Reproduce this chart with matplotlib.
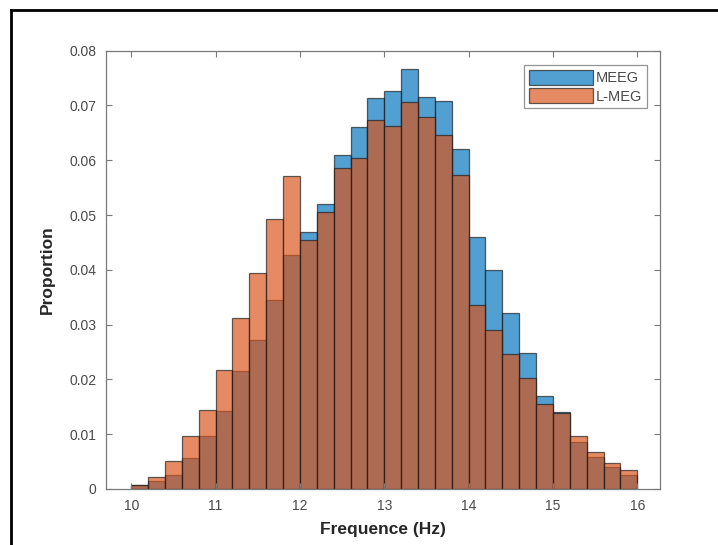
import numpy as np
import matplotlib
matplotlib.use("Agg")
import matplotlib.pyplot as plt
from matplotlib.lines import Line2D

# Histogram bin edges (Hz) and per-bin proportions for each recording type
bin_edges = [10.0, 10.2, 10.4, 10.6, 10.8, 11.0, 11.2, 11.4, 11.6, 11.8,
             12.0, 12.2, 12.4, 12.6, 12.8, 13.0, 13.2, 13.4, 13.6, 13.8,
             14.0, 14.2, 14.4, 14.6, 14.8, 15.0, 15.2, 15.4, 15.6, 15.8, 16.0]

meeg = [0.0007, 0.0015, 0.0025, 0.0057, 0.0097, 0.0142, 0.0215, 0.0272, 0.0345, 0.0427,
        0.0469, 0.0521, 0.0609, 0.0660, 0.0714, 0.0727, 0.0767, 0.0716, 0.0708, 0.0620,
        0.0460, 0.0399, 0.0321, 0.0248, 0.0170, 0.0140, 0.0085, 0.0059, 0.0041, 0.0025]

lmeg = [0.0007, 0.0021, 0.0051, 0.0097, 0.0145, 0.0218, 0.0312, 0.0394, 0.0493, 0.0571,
        0.0455, 0.0506, 0.0585, 0.0604, 0.0673, 0.0663, 0.0707, 0.0679, 0.0647, 0.0574,
        0.0336, 0.0291, 0.0247, 0.0202, 0.0155, 0.0139, 0.0097, 0.0067, 0.0048, 0.0034]

series_names = ["MEEG", "L-MEG"]
x_ticks = [10, 11, 12, 13, 14, 15, 16]
y_ticks = [0, 0.01, 0.02, 0.03, 0.04, 0.05, 0.06, 0.07, 0.08]
y_tick_labels = ["0", "0.01", "0.02", "0.03", "0.04", "0.05", "0.06", "0.07", "0.08"]

plt.rcParams["font.family"] = ["Liberation Sans", "DejaVu Sans"]

blue = (0.0, 0.447, 0.741)
orange = (0.85, 0.325, 0.098)
alpha = 0.68
axis_gray = "#7a7a7a"
text_gray = "#4a4a4a"

fig = plt.figure(figsize=(7.18, 5.45), dpi=100)
ax = fig.add_axes([106 / 718, (545 - 489) / 545, (660 - 106) / 718, (489 - 50.7) / 545])

lefts = np.array(bin_edges[:-1])
widths = np.diff(bin_edges)

ax.bar(lefts, meeg, width=widths, align="edge", color=blue, alpha=alpha,
       edgecolor="#1a1a1a", linewidth=0.9, label=series_names[0])
ax.bar(lefts, lmeg, width=widths, align="edge", color=orange, alpha=alpha,
       edgecolor="#1a1a1a", linewidth=0.9, label=series_names[1])

ax.set_xlim(9.70, 16.27)
ax.set_ylim(0, 0.08)
ax.set_xticks(x_ticks)
ax.set_xticklabels([str(t) for t in x_ticks])
ax.set_yticks(y_ticks)
ax.set_yticklabels(y_tick_labels)

ax.tick_params(direction="in", top=True, right=True, length=4, width=0.8,
               colors=axis_gray, labelcolor=text_gray, labelsize=10, pad=7)
for sp in ax.spines.values():
    sp.set_color(axis_gray)
    sp.set_linewidth(0.9)

ax.set_xlabel("Frequence (Hz)", fontsize=12.5, fontweight="bold", color="#262626", labelpad=7)
ax.set_ylabel("Proportion", fontsize=12.5, fontweight="bold", color="#262626", labelpad=10)

leg = ax.legend(loc="upper right", bbox_to_anchor=(0.976, 0.967), fontsize=10.5,
                frameon=True, fancybox=False, edgecolor=axis_gray,
                handlelength=4.4, handleheight=1.25, handletextpad=0.2,
                borderpad=0.3, labelspacing=0.2, borderaxespad=0.0)
leg.get_frame().set_linewidth(0.9)
for t in leg.get_texts():
    t.set_color(text_gray)

# Outer frame lines along the top and left of the figure
fig.add_artist(Line2D([11 / 718, 1.0], [1 - 10 / 545, 1 - 10 / 545],
                      transform=fig.transFigure, color="black", linewidth=2))
fig.add_artist(Line2D([11 / 718, 11 / 718], [0.0, 1 - 10 / 545],
                      transform=fig.transFigure, color="black", linewidth=2))

fig.savefig("out.png", dpi=100, facecolor="white")
